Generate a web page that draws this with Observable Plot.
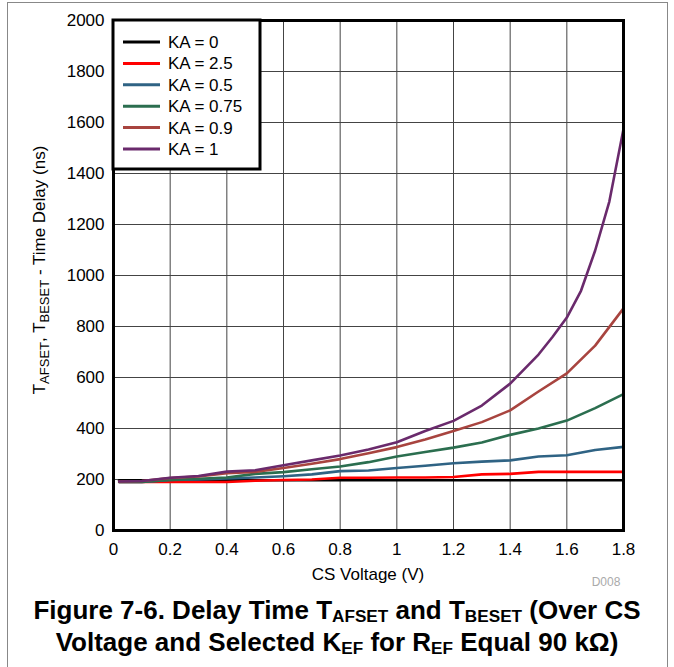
<!DOCTYPE html>
<html><head><meta charset="utf-8">
<script src="https://cdn.jsdelivr.net/npm/d3@7"></script>
<script src="https://cdn.jsdelivr.net/npm/@observablehq/plot@0.6"></script>
<style>
body{margin:0;background:#fff;font-family:"Liberation Sans",Arial,Helvetica,sans-serif;}
#wrap{position:relative;width:674px;height:667px;overflow:hidden;background:#fff;}
#frame{position:absolute;left:7px;top:2px;width:661px;height:700px;border:1.5px solid #888;box-sizing:border-box;}
#chart{position:absolute;left:0;top:0;}
#caption{position:absolute;left:0;top:594px;width:674px;text-align:center;font-weight:bold;font-size:26px;line-height:32px;color:#000;white-space:nowrap;}
#caption sub{font-size:0.66em;line-height:0;vertical-align:-0.15em;}
</style></head>
<body><div id="wrap"><div id="frame"></div><div id="chart"></div>
<div id="caption">Figure 7-6. Delay Time T<sub>AFSET</sub> and T<sub>BESET</sub> (Over CS<br>Voltage and Selected K<sub>EF</sub> for R<sub>EF</sub> Equal 90 kΩ)</div></div>
<script>
// ---- data ----
const seriesNames = ["KA = 0", "KA = 2.5", "KA = 0.5", "KA = 0.75", "KA = 0.9", "KA = 1"];
const seriesColors = ["#000000", "#ff0000", "#2f6384", "#2b6e4f", "#a8443f", "#6a2a6c"];
const xTicks = [0, 0.2, 0.4, 0.6, 0.8, 1, 1.2, 1.4, 1.6, 1.8];
const yTicks = [0, 200, 400, 600, 800, 1000, 1200, 1400, 1600, 1800, 2000];

const voltage = [0.02, 0.1, 0.2, 0.3, 0.4, 0.5, 0.6, 0.7, 0.8, 0.9, 1.0, 1.1, 1.2, 1.3, 1.4, 1.5, 1.6, 1.7, 1.8];
const ka0   = [197, 197, 197, 197, 197, 197, 197, 197, 197, 197, 197, 197, 197, 197, 197, 197, 197, 197, 197];
const ka2_5 = [190, 190, 190, 190, 190, 195, 198, 200, 207, 207, 208, 208, 210, 220, 222, 230, 230, 230, 230];
const ka0_5 = [190, 190, 198, 200, 204, 208, 213, 220, 233, 235, 245, 254, 264, 270, 275, 290, 295, 316, 328];
const ka0_75= [190, 190, 198, 203, 208, 222, 229, 240, 251, 268, 290, 308, 325, 345, 375, 400, 431, 480, 535];
const ka0_9 = [192, 194, 206, 212, 225, 230, 245, 262, 280, 303, 327, 357, 390, 425, 471, 545, 616, 725, 871];
const voltageKa1 = [0.02, 0.1, 0.2, 0.3, 0.4, 0.5, 0.6, 0.7, 0.8, 0.9, 1.0, 1.1, 1.2, 1.3, 1.4, 1.5, 1.55, 1.6, 1.65, 1.7, 1.75, 1.8];
const ka1   = [192, 194, 207, 214, 231, 236, 256, 275, 294, 318, 346, 390, 430, 490, 576, 690, 760, 835, 940, 1098, 1290, 1575];

const seriesX = [voltage, voltage, voltage, voltage, voltage, voltageKa1];
const seriesY = [ka0, ka2_5, ka0_5, ka0_75, ka0_9, ka1];
const rows = seriesNames.flatMap((name, k) => seriesX[k].map((v, i) => ({V: v, T: seriesY[k][i], name})));

const FONT = "Liberation Sans, Arial, Helvetica, sans-serif";
const chart = Plot.plot({
  width: 674, height: 592,
  marginLeft: 113, marginRight: 51, marginTop: 20, marginBottom: 62,
  style: {fontFamily: FONT, fontSize: "17px", color: "#000", background: "transparent", overflow: "visible"},
  x: {domain: [0, 1.8], label: null},
  y: {domain: [0, 2000], label: null},
  color: {domain: seriesNames, range: seriesColors},
  marks: [
    Plot.gridX(xTicks, {stroke: "#444", strokeOpacity: 1, strokeWidth: 1}),
    Plot.gridY(yTicks, {stroke: "#444", strokeOpacity: 1, strokeWidth: 1}),
    Plot.axisX(xTicks, {tickSize: 0, tickPadding: 12, tickFormat: d => String(d), label: null, fontSize: 17}),
    Plot.axisY(yTicks, {tickSize: 0, tickPadding: 9, tickFormat: d => String(d), label: null, fontSize: 17}),
    Plot.line(rows, {x: "V", y: "T", z: "name", stroke: "name", strokeWidth: 2.6, curve: "linear"}),
    Plot.frame({stroke: "#000", strokeWidth: 3})
  ]
});
document.getElementById("chart").appendChild(chart);

const svg = d3.select(chart);
// x axis title
svg.append("text").attr("x", 368).attr("y", 580).attr("text-anchor", "middle")
  .attr("font-family", FONT).attr("font-size", 17).attr("fill", "#000").text("CS Voltage (V)");
// D008
svg.append("text").attr("x", 606).attr("y", 586).attr("text-anchor", "middle")
  .attr("font-family", FONT).attr("font-size", 12).attr("fill", "#aaa").text("D008");
// y axis title with subscripts
const yl = svg.append("text").attr("transform", "translate(45,270) rotate(-90)")
  .attr("text-anchor", "middle").attr("font-family", FONT).attr("font-size", 17).attr("fill", "#000");
yl.append("tspan").text("T");
yl.append("tspan").attr("font-size", 13).attr("dy", 4).text("AFSET");
yl.append("tspan").attr("dy", -4).text(", T");
yl.append("tspan").attr("font-size", 13).attr("dy", 4).text("BESET");
yl.append("tspan").attr("dy", -4).text(" - Time Delay (ns)");
// legend
const lg = svg.append("g");
lg.append("rect").attr("x", 113).attr("y", 20).attr("width", 147).attr("height", 149)
  .attr("fill", "#fff").attr("stroke", "#000").attr("stroke-width", 3);
seriesNames.forEach((n, i) => {
  const y = 42 + i * 21.4;
  lg.append("line").attr("x1", 123).attr("x2", 160).attr("y1", y).attr("y2", y)
    .attr("stroke", seriesColors[i]).attr("stroke-width", 3);
  lg.append("text").attr("x", 168).attr("y", y).attr("dy", "0.35em").attr("text-anchor", "start")
    .attr("font-family", FONT).attr("font-size", 17).attr("fill", "#000").text(n);
});
</script>
</body></html>
